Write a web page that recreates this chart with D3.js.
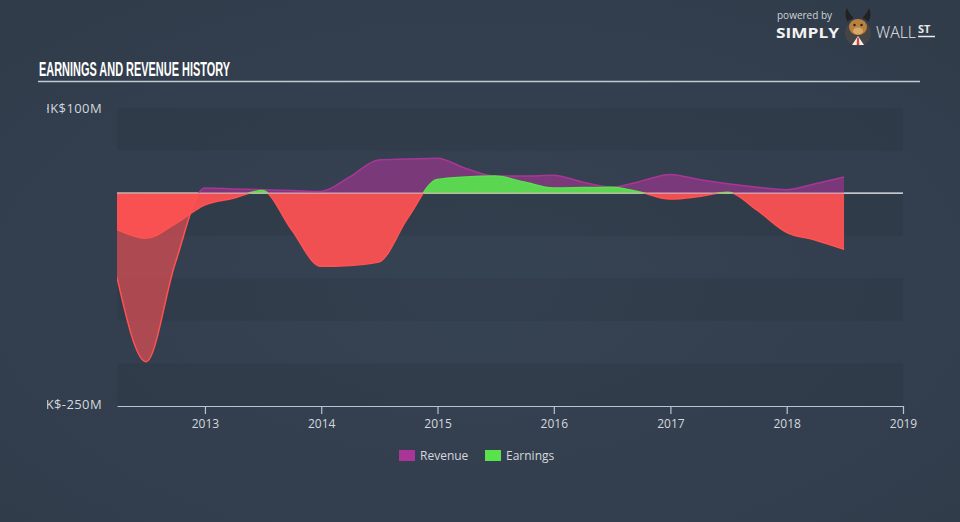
<!DOCTYPE html>
<html>
<head>
<meta charset="utf-8">
<script src="https://cdn.jsdelivr.net/npm/d3@7"></script>
<style>
  html, body { margin: 0; padding: 0; }
  body { width: 960px; height: 522px; overflow: hidden; background: #333f4f; }
  svg { display: block; }
</style>
</head>
<body>
<svg id="chart" width="960" height="522"></svg>
<script>
// ---- data (HK$ millions, trailing twelve months, quarter ends) ----
const dates = ["2012-03-31","2012-06-30","2012-09-30","2012-12-31",
  "2013-03-31","2013-06-30","2013-09-30","2013-12-31",
  "2014-03-31","2014-06-30","2014-09-30","2014-12-31",
  "2015-03-31","2015-06-30","2015-09-30","2015-12-31",
  "2016-03-31","2016-06-30","2016-09-30","2016-12-31",
  "2017-03-31","2017-06-30","2017-09-30","2017-12-31",
  "2018-03-31","2018-06-30"];
const revenue = [-99, -198, -82, 6,
  5, 4, 3, 2,
  19, 39, 40, 41,
  29, 20, 20, 21,
  13, 7, 14, 22,
  16, 11, 7, 4,
  11, 19];
const earnings = [-43, -53, -36, -14,
  -6, 3, -43, -86,
  -85, -81, -29, 16,
  19, 20, 13, 6,
  6.5, 7, 1, -7,
  -4, 1, -20, -46,
  -55, -66];
const yTicks = [100, -250];
const xTickYears = [2013, 2014, 2015, 2016, 2017, 2018, 2019];
const seriesNames = ["Revenue", "Earnings"];

const parse = d3.timeParse("%Y-%m-%d");
const rows = dates.map((d, i) => ({ date: parse(d), rev: revenue[i], earn: earnings[i] }));

const svg = d3.select("#chart");
const W = 960, H = 522;
const L = 117, R = 903, T = 108, B = 406;

// background with soft radial light
const defs = svg.append("defs");
const rg = defs.append("radialGradient").attr("id", "bg").attr("cx", "50%").attr("cy", "55%").attr("r", "70%");
rg.append("stop").attr("offset", "0%").attr("stop-color", "#364353");
rg.append("stop").attr("offset", "100%").attr("stop-color", "#313c4b");
svg.append("rect").attr("width", W).attr("height", H).attr("fill", "url(#bg)");

const x = d3.scaleTime().domain([parse("2012-03-31"), new Date(2019, 0, 1)]).range([L, R]);
const y = d3.scaleLinear().domain([-250, 100]).range([B, T]);

// bands every 50M
const bandVals = d3.range(-250, 100, 50);
svg.append("g").selectAll("rect").data(bandVals).join("rect")
  .attr("x", L).attr("width", R - L)
  .attr("y", d => y(d + 50)).attr("height", d => y(d) - y(d + 50))
  .attr("fill", (d, i) => (i % 2 === 0) ? "rgba(0,0,0,0.055)" : "rgba(255,255,255,0.0)");

// clips for positive / negative parts
const y0 = y(0);
defs.append("clipPath").attr("id", "pos").append("rect").attr("x", L).attr("y", T - 20).attr("width", R - L).attr("height", y0 - T + 20);
defs.append("clipPath").attr("id", "neg").append("rect").attr("x", L).attr("y", y0).attr("width", R - L).attr("height", B - y0);

// baseline under areas
svg.append("line").attr("x1", L).attr("x2", R).attr("y1", y0).attr("y2", y0)
  .attr("stroke", "#e4e6ea").attr("stroke-width", 1.2);

function drawSeries(key, posColor, negColor, fillOp) {
  const area = d3.area().curve(d3.curveMonotoneX)
    .x(d => x(d.date)).y0(y0).y1(d => y(d[key]));
  const line = d3.line().curve(d3.curveMonotoneX)
    .x(d => x(d.date)).y(d => y(d[key]));
  [["pos", posColor], ["neg", negColor]].forEach(([clip, col]) => {
    const g = svg.append("g").attr("clip-path", `url(#${clip})`);
    g.append("path").datum(rows).attr("d", area).attr("fill", col).attr("fill-opacity", fillOp);
    g.append("path").datum(rows).attr("d", line).attr("fill", "none").attr("stroke", col).attr("stroke-width", 1.5);
  });
}
drawSeries("rev", "#a93696", "#ff5153", 0.6);
drawSeries("earn", "#58e24c", "#ff5252", 0.93);

// zero line on top (faint)
svg.append("line").attr("x1", L).attr("x2", R).attr("y1", y0).attr("y2", y0)
  .attr("stroke", "#ffffff").attr("stroke-opacity", 0.3).attr("stroke-width", 1);

// x axis
const xAxis = d3.axisBottom(x)
  .tickValues(xTickYears.map(yr => new Date(yr, 0, 1)))
  .tickFormat(d3.timeFormat("%Y")).tickSize(8).tickSizeOuter(0);
const ax = svg.append("g").attr("transform", `translate(0,${B})`).call(xAxis);
ax.select(".domain").attr("stroke", "#b9c4d2").attr("stroke-width", 1.2);
ax.selectAll(".tick line").attr("stroke", "#b9c4d2").attr("stroke-width", 1.2);
ax.selectAll(".tick text").attr("fill", "#d4d8de").attr("font-family", "Open Sans, sans-serif")
  .attr("font-size", 12).attr("dy", "0.95em");

// y labels, clipped at left
defs.append("clipPath").attr("id", "ylab").append("rect").attr("x", 47).attr("y", 0).attr("width", 70).attr("height", H);
svg.append("g").attr("clip-path", "url(#ylab)").selectAll("text").data(yTicks).join("text")
  .attr("x", 102).attr("y", d => y(d) - (d < 0 ? 2 : 0)).attr("dy", "0.35em")
  .attr("text-anchor", "end").attr("fill", "#d4d8de")
  .attr("font-family", "Open Sans, sans-serif").attr("font-size", 13).attr("letter-spacing", 0.4)
  .text(d => "HK$" + d + "M");

// title
svg.append("text").attr("x", 39).attr("y", 76).text("EARNINGS AND REVENUE HISTORY")
  .attr("fill", "#ffffff").attr("font-family", "Liberation Sans Narrow, Arial Narrow, sans-serif")
  .attr("font-weight", "bold").attr("font-size", 19.5).attr("textLength", 191).attr("lengthAdjust", "spacingAndGlyphs");
svg.append("line").attr("x1", 38).attr("x2", 920).attr("y1", 81.5).attr("y2", 81.5)
  .attr("stroke", "#c4cad2").attr("stroke-width", 1.5);

// legend
const legendColors = ["#a93696", "#58e24c"];
const legX = [399, 485];
const lg = svg.append("g");
seriesNames.forEach((n, i) => {
  lg.append("rect").attr("x", legX[i]).attr("y", 450).attr("width", 16).attr("height", 11).attr("fill", legendColors[i]);
  lg.append("text").attr("x", legX[i] + 21).attr("y", 456).attr("dy", "0.35em").text(n)
    .attr("fill", "#d4d8de").attr("font-family", "Open Sans, sans-serif").attr("font-size", 12);
});

// logo
const logo = svg.append("g");
logo.append("text").attr("x", 777).attr("y", 19).text("powered by")
  .attr("fill", "#cfd3d8").attr("font-family", "Open Sans, sans-serif").attr("font-size", 10);
logo.append("text").attr("x", 776).attr("y", 38).text("SIMPLY")
  .attr("fill", "#f2f2f2").attr("font-family", "Open Sans, sans-serif").attr("font-weight", "bold").attr("font-size", 14.5)
  .attr("textLength", 63).attr("lengthAdjust", "spacingAndGlyphs");
logo.append("circle").attr("cx", 858).attr("cy", 33).attr("r", 13).attr("fill", "#454545");
logo.append("path").attr("d", "M848,21 Q845,15 847,10 Q850,16 853,18 M868,21 Q871,15 869,10 Q866,16 863,18")
  .attr("stroke", "#222").attr("stroke-width", 1.5).attr("fill", "#222");
logo.append("ellipse").attr("cx", 858).attr("cy", 27).attr("rx", 9).attr("ry", 8).attr("fill", "#b98040");
logo.append("ellipse").attr("cx", 858).attr("cy", 31).attr("rx", 5).attr("ry", 3.5).attr("fill", "#d9a868");
logo.append("circle").attr("cx", 854.5).attr("cy", 25).attr("r", 1.2).attr("fill", "#222");
logo.append("circle").attr("cx", 861.5).attr("cy", 25).attr("r", 1.2).attr("fill", "#222");
logo.append("path").attr("d", "M852,45 L858,36 L864,45 Z").attr("fill", "#f0f0f0");
logo.append("path").attr("d", "M857.2,37.5 L858.8,37.5 L859.4,45 L856.6,45 Z").attr("fill", "#d9432f");
logo.append("text").attr("x", 876).attr("y", 38).text("WALL")
  .attr("fill", "#e8e8e8").attr("font-family", "Open Sans, sans-serif").attr("font-weight", 300).attr("font-size", 15.5)
  .attr("textLength", 40).attr("lengthAdjust", "spacingAndGlyphs");
logo.append("text").attr("x", 918).attr("y", 33).text("ST")
  .attr("fill", "#e8e8e8").attr("font-family", "Open Sans, sans-serif").attr("font-weight", "bold").attr("font-size", 11);
logo.append("line").attr("x1", 918).attr("x2", 935).attr("y1", 36.5).attr("y2", 36.5).attr("stroke", "#e8e8e8").attr("stroke-width", 1.5);
</script>
</body>
</html>
